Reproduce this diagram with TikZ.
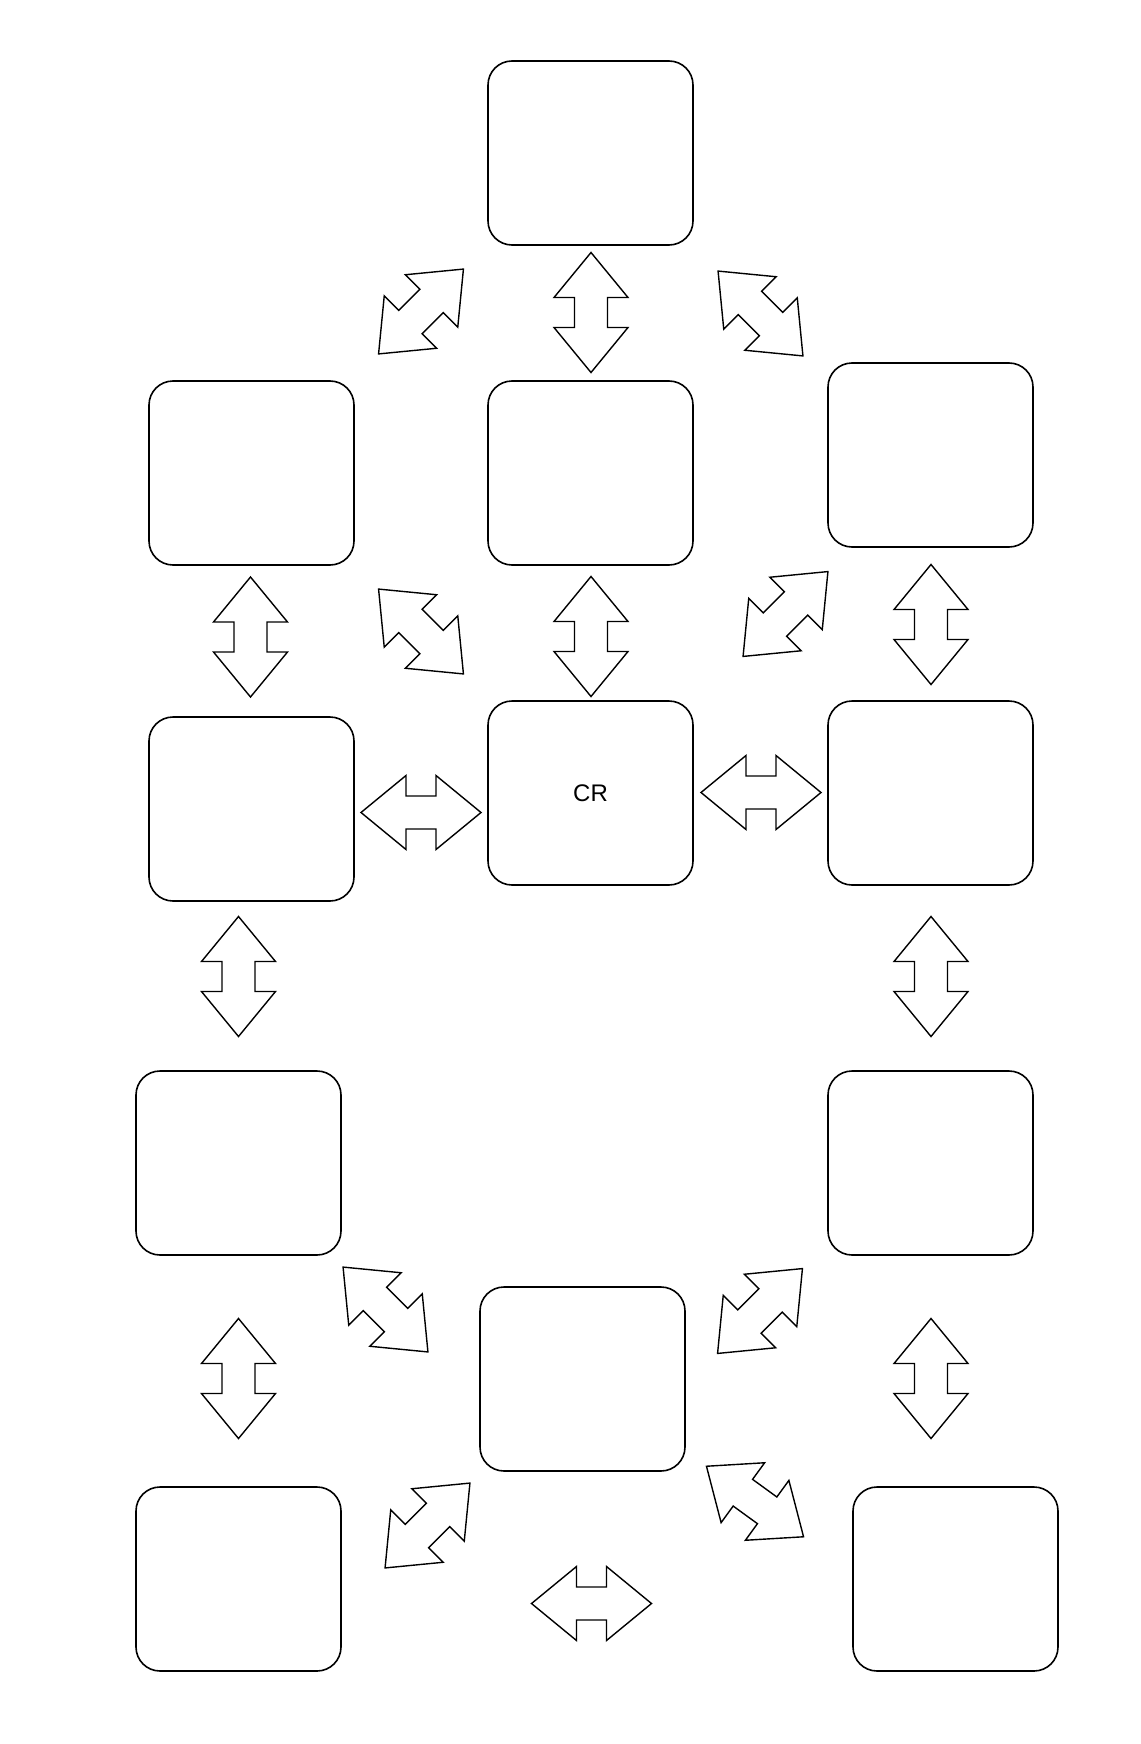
\documentclass[tikz,border=0pt]{standalone}
\usepackage{fontspec}
\setmainfont{Liberation Sans}
\usetikzlibrary{positioning}

\begin{document}
\begin{tikzpicture}[
    x=0.5pt, y=-0.5pt,
    box/.style={draw, line width=0.8pt, rounded corners=12pt, minimum width=102.5pt, minimum height=92pt, inner sep=0pt, font=\fontsize{12}{14}\selectfont},
    arrline/.style={draw, line width=0.7pt, line join=miter},
    dblarr/.pic={\path[arrline] (-60,0) -- (-15,37) -- (-15,16.5) -- (15,16.5) -- (15,37) -- (60,0) -- (15,-37) -- (15,-16.5) -- (-15,-16.5) -- (-15,-37) -- cycle;}
]
\fill[white] (0,0) rectangle (1140,1744);
\useasboundingbox (0,0) rectangle (1140,1744);
% boxes
\node[box] (top) at (590.5,153) {};
\node[box] (midL) at (251.5,473) {};
\node[box] (midC) at (590.5,473) {};
\node[box] (midR) at (930.5,455) {};
\node[box] (rowL) at (251.5,809) {};
\node[box] (cr) at (590.5,793) {CR};
\node[box] (rowR) at (930.5,793) {};
\node[box] (lowL) at (238.5,1163) {};
\node[box] (lowR) at (930.5,1163) {};
\node[box] (botC) at (582.5,1379) {};
\node[box] (botL) at (238.5,1579) {};
\node[box] (botR) at (955.5,1579) {};
% block arrows
\pic[rotate=45] at (421,311.5) {dblarr};
\pic[rotate=90] at (591,312.5) {dblarr};
\pic[rotate=-45] at (760.5,313.5) {dblarr};
\pic[rotate=90] at (250.5,637) {dblarr};
\pic[rotate=-45] at (421,631.5) {dblarr};
\pic[rotate=90] at (591,636.5) {dblarr};
\pic[rotate=45] at (785.5,614) {dblarr};
\pic[rotate=90] at (931,624.5) {dblarr};
\pic at (421,812.5) {dblarr};
\pic at (761,792.5) {dblarr};
\pic[rotate=90] at (238.5,976.5) {dblarr};
\pic[rotate=90] at (931,976.5) {dblarr};
\pic[rotate=-45] at (385.5,1309.5) {dblarr};
\pic[rotate=45] at (760,1311) {dblarr};
\pic[rotate=90] at (238.5,1378.5) {dblarr};
\pic[rotate=90] at (931,1378.5) {dblarr};
\pic[rotate=45] at (427.5,1525.5) {dblarr};
\pic at (591.5,1603.5) {dblarr};
\pic[rotate=-36] at (755,1501.5) {dblarr};
\end{tikzpicture}
\end{document}
